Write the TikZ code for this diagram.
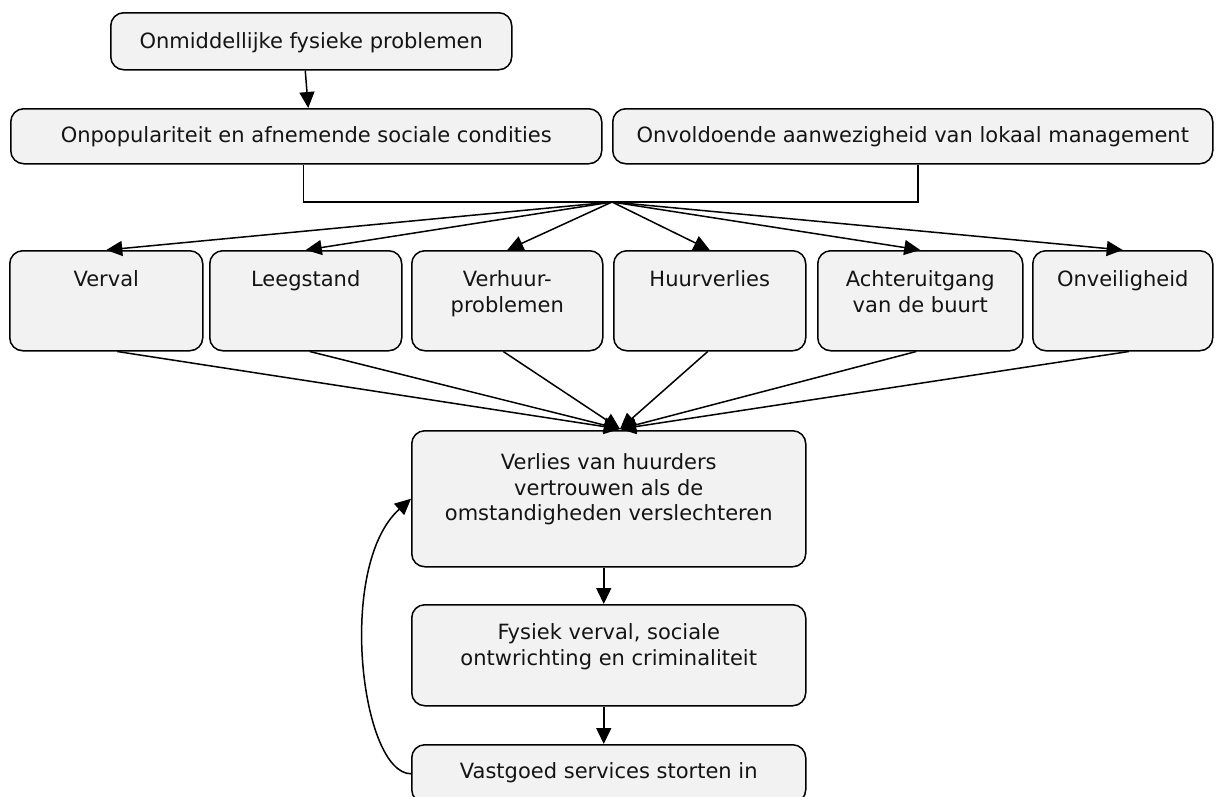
\documentclass[tikz,border=0pt]{standalone}
\usepackage{fontspec}
\setmainfont{DejaVu Sans}
\usetikzlibrary{arrows.meta}

\definecolor{cardfill}{HTML}{F2F2F2}
\definecolor{ink}{HTML}{141414}

% box content: width, height, space above first line, text
\newcommand\cardtext[4]{\parbox[t][#2][t]{#1}{\centering\vspace*{#3}\strut #4}}

\tikzset{
  card/.style={draw=black, line width=1.5pt, fill=cardfill, rounded corners=13pt,
    inner sep=0pt, anchor=north west, text=ink,
    font=\fontsize{21}{25.5}\selectfont},
  link/.style={line width=1.5pt, draw=black},
  arr/.style={link, -{Triangle[length=16pt,width=15pt]}},
}

\begin{document}
\begin{tikzpicture}[x=1pt,y=-1pt]
\useasboundingbox (0,0) rectangle (1216,796);
\clip (0,0) rectangle (1216,796);

% causes
\node[card] (top) at (110,12) {\cardtext{401pt}{57pt}{18pt}{Onmiddellijke fysieke problemen}};
\node[card] (onpop) at (10,108) {\cardtext{591pt}{55pt}{16pt}{Onpopulariteit en afnemende sociale condities}};
\node[card] (onvold) at (612,108) {\cardtext{600pt}{55pt}{16pt}{Onvoldoende aanwezigheid van lokaal management}};

% consequences
\node[card] (verval) at (9,250) {\cardtext{193pt}{100pt}{18pt}{Verval}};
\node[card] (leeg) at (209,250) {\cardtext{192pt}{100pt}{18pt}{Leegstand}};
\node[card] (verhuur) at (411,250) {\cardtext{191pt}{100pt}{18pt}{Verhuur-\\problemen}};
\node[card] (huur) at (613,250) {\cardtext{192pt}{100pt}{18pt}{Huurverlies}};
\node[card] (achter) at (817,250) {\cardtext{205pt}{100pt}{18pt}{Achteruitgang\\van de buurt}};
\node[card] (onveilig) at (1032,250) {\cardtext{180pt}{100pt}{18pt}{Onveiligheid}};

% spiral of decline
\node[card] (verlies) at (411,430) {\cardtext{394pt}{136pt}{21pt}{Verlies van huurders\\vertrouwen als de\\omstandigheden verslechteren}};
\node[card] (fysiek) at (411,604) {\cardtext{394pt}{101pt}{17pt}{Fysiek verval, sociale\\ontwrichting en criminaliteit}};
\node[card] (vastgoed) at (411,744) {\cardtext{394pt}{58pt}{16pt}{Vastgoed services storten in}};

\coordinate (hub) at (612,202);
\coordinate (sink) at (620,429);

% top arrow and bracket
\draw[arr] ([xshift=-6pt]top.south) -- ([xshift=2pt]onpop.north);
\draw[link] ([xshift=-3pt]onpop.south) |- (hub) -| ([xshift=5pt]onvold.south);

% fan out
\foreach \n in {verval,leeg,verhuur,huur,achter,onveilig}
  \draw[arr] (hub) -- (\n.north);

% fan in
\draw[arr] ([xshift=11pt]verval.south) -- (sink);
\draw[arr] ([xshift=4pt]leeg.south) -- (sink);
\draw[arr] ([xshift=-4pt]verhuur.south) -- (sink);
\draw[arr] ([xshift=-2pt]huur.south) -- (sink);
\draw[arr] ([xshift=-4pt]achter.south) -- (sink);
\draw[arr] ([xshift=6pt]onveilig.south) -- (sink);

% vertical chain
\draw[arr] ([xshift=-5pt]verlies.south) -- ([xshift=-5pt]fysiek.north);
\draw[arr] ([xshift=-5pt]fysiek.south) -- ([xshift=-5pt]vastgoed.north);

% feedback loop
\draw[arr] (vastgoed.west) .. controls +(-50,0) and +(-75,67) .. (verlies.west);
\end{tikzpicture}
\end{document}
